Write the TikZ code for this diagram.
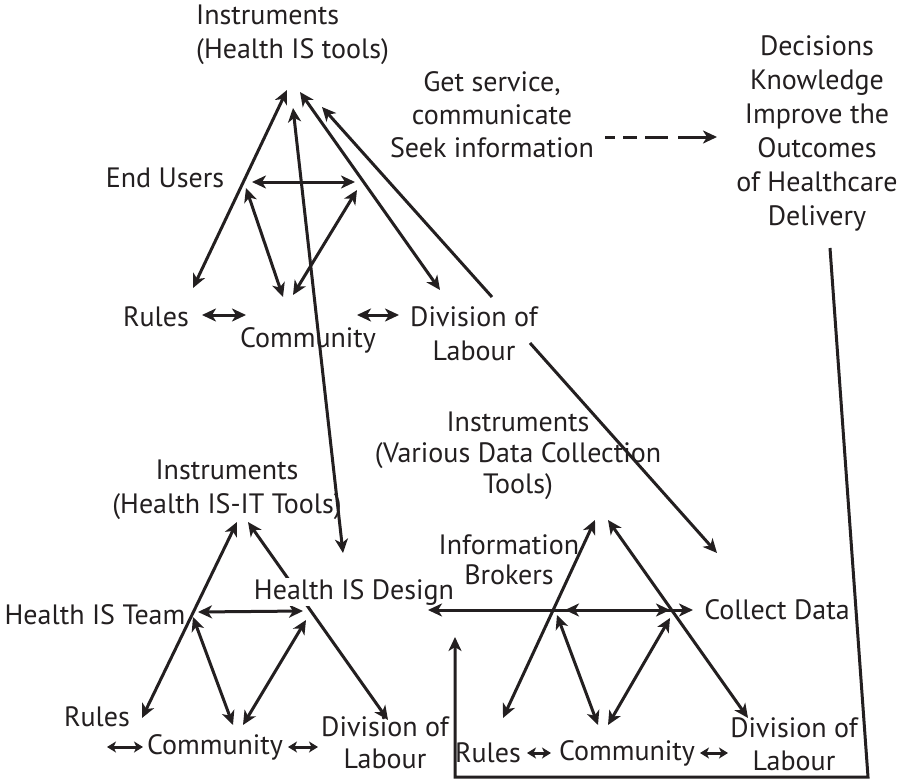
\documentclass[tikz,border=0pt]{standalone}
\usepackage{fontspec}
\setmainfont{PT Sans}
\usetikzlibrary{arrows.meta}
\definecolor{ink}{HTML}{231F20}
\begin{document}
\begin{tikzpicture}[x=1pt,y=-1pt,
  lbl/.style={inner sep=0pt, text=ink, font=\fontsize{28}{34}\selectfont, align=center},
  con/.style={draw=ink, line width=3pt},
  tip/.tip={Stealth[length=14pt,width=13pt,inset=4pt]},
  stip/.tip={Stealth[length=9pt,width=11pt,inset=2.5pt]},
  arr/.style={con, -tip},
  dbl/.style={con, tip-tip},
  sdbl/.style={con, stip-stip}]
\useasboundingbox[fill=white] (0,0) rectangle (900,779);

% ---------- top triangle ----------
\coordinate (tA1) at (287,90);
\coordinate (tA2) at (300,92);
\coordinate (tA3) at (293,108);
\coordinate (tA4) at (322,107);
\coordinate (tRuT) at (193,288);
\coordinate (tDvT) at (440,290);
\coordinate (tHL) at (252,182);
\coordinate (tHR) at (355,182);
\coordinate (tVL) at (246,188);
\coordinate (tVR) at (357,190);
\coordinate (tCL) at (283,297);
\coordinate (tCR) at (293,295);
\coordinate (tR1) at (202,315);
\coordinate (tR2) at (246,315);
\coordinate (tD1) at (357,315);
\coordinate (tD2) at (399,315);
\coordinate (tDvS) at (492,297);
\coordinate (tDvB) at (530,343);

\node[lbl, align=left, anchor=west] (tInst) at (196,35) {Instruments\\(Health IS tools)};
\node[lbl] (tEU) at (165,178) {End Users};
\node[lbl] (tRules) at (156,317) {Rules};
\node[lbl] (tComm) at (308,340) {Community};
\node[lbl] (tDiv) at (474,334) {Division of\\Labour};

\draw[dbl] (tA1) -- (tRuT);
\draw[dbl] (tA2) -- (tDvT);
\draw[dbl] (tHL) -- (tHR);
\draw[dbl] (tVL) -- (tCL);
\draw[dbl] (tCR) -- (tVR);
\draw[dbl] (tR1) -- (tR2);
\draw[dbl] (tD1) -- (tD2);
\draw[arr] (tDvS) -- (tA4);

% ---------- goals ----------
\node[lbl, font=\fontsize{28}{33}\selectfont] (get) at (492,115) {Get service,\\communicate\\Seek information};
\node[lbl] (dec) at (817,133) {Decisions\\Knowledge\\Improve the\\Outcomes\\of Healthcare\\Delivery};
\coordinate (dashS) at (605,137);
\coordinate (dashE) at (717,137);
\draw[arr, dash pattern=on 10pt off 8pt on 14pt off 8pt on 23pt off 10pt on 80pt] (dashS) -- (dashE);

% ---------- bottom-left triangle ----------
\coordinate (bA1) at (237,522);
\coordinate (bA2) at (248,522);
\coordinate (bRuT) at (142,718);
\coordinate (bDvT) at (388,720);
\coordinate (bHL) at (198,612);
\coordinate (bHR) at (303,611);
\coordinate (bVL) at (193,617);
\coordinate (bVR) at (306,620);
\coordinate (bCL) at (233,725);
\coordinate (bCR) at (243,725);
\coordinate (bR1) at (107,747);
\coordinate (bR2) at (143,747);
\coordinate (bD1) at (288,747);
\coordinate (bD2) at (318,747);
\coordinate (bDes) at (343,553);

\node[lbl] (bInst) at (227,490) {Instruments\\(Health IS-IT Tools)};
\node[lbl] (hist) at (95,615) {Health IS Team};
\node[lbl] (bRules) at (97,717) {Rules};
\node[lbl] (bComm) at (215,747) {Community};
\node[lbl, font=\fontsize{28}{32}\selectfont] (bDiv) at (385,743) {Division of\\Labour};

\draw[dbl] (bA1) -- (bRuT);
\draw[dbl] (bA2) -- (bDvT);
\draw[dbl] (bHL) -- (bHR);
\draw[dbl] (bVL) -- (bCL);
\draw[dbl] (bCR) -- (bVR);
\draw[sdbl] (bR1) -- (bR2);
\draw[sdbl] (bD1) -- (bD2);
\node[lbl, fill=white, inner sep=1pt] (hisd) at (354,592) {Health IS Design};

% long link between top and bottom-left
\draw[dbl] (tA3) -- (bDes);

% ---------- bottom-right triangle ----------
\coordinate (cA1) at (595,520);
\coordinate (cA2) at (608,520);
\coordinate (cRuT) at (503,718);
\coordinate (cDvT) at (748,718);
\coordinate (cHL) at (565,610);
\coordinate (cHR) at (670,610);
\coordinate (cVL) at (557,615);
\coordinate (cVR) at (670,618);
\coordinate (cCL) at (598,725);
\coordinate (cCR) at (608,725);
\coordinate (cR1) at (527,753);
\coordinate (cR2) at (551,753);
\coordinate (cD1) at (700,753);
\coordinate (cD2) at (728,753);
\coordinate (lnL) at (428,610);
\coordinate (lnR) at (693,610);
\coordinate (cdT) at (717,553);

\node[lbl, font=\fontsize{28}{31}\selectfont] (cInst) at (518,456) {Instruments\\(Various Data Collection\\Tools)};
\node[lbl, font=\fontsize{28}{30}\selectfont] (ib) at (509,560) {Information\\Brokers};
\node[lbl] (cd) at (777,610) {Collect Data};
\node[lbl] (cRules) at (488,753) {Rules};
\node[lbl] (cComm) at (627,753) {Community};
\node[lbl, font=\fontsize{28}{33}\selectfont] (cDiv) at (794,744) {Division of\\Labour};

\draw[dbl] (cA1) -- (cRuT);
\draw[dbl] (cA2) -- (cDvT);
\draw[dbl] (lnL) -- (lnR);
\draw[dbl] (cHL) -- (cHR);
\draw[dbl] (cVL) -- (cCL);
\draw[dbl] (cCR) -- (cVR);
\draw[sdbl] (cR1) -- (cR2);
\draw[sdbl] (cD1) -- (cD2);

% link from top division of labour to collect data
\draw[arr] (tDvB) -- (cdT);

% feedback from outcomes
\coordinate (fb1) at (830,248);
\coordinate (fb2) at (868,777);
\coordinate (fb3) at (455,777);
\coordinate (fb4) at (455,637);
\draw[arr, line join=miter] (fb1) -- (fb2) -- (fb3) -- (fb4);
\end{tikzpicture}
\end{document}
